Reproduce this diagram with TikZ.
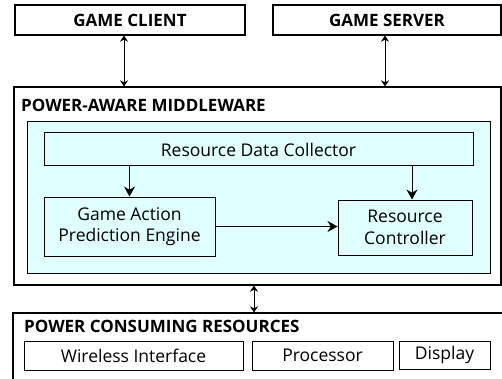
\documentclass[tikz,border=0pt]{standalone}
\usepackage{fontspec}
\setmainfont{Open Sans}
\usetikzlibrary{arrows.meta, positioning}
\definecolor{paleCyan}{RGB}{224,255,255}

\begin{document}
\begin{tikzpicture}[x=1pt,y=-1pt,>={Stealth},
      every node/.style={inner sep=0pt, font=\fontsize{17.5}{21.5}\selectfont},
      box/.style={draw, line width=1.2pt, rectangle, align=center},
      title/.style={anchor=west, font=\fontsize{17}{21}\selectfont\bfseries},
      link/.style={<->, line width=1pt, >={Stealth[length=6pt,width=8pt]}},
      flow/.style={->, line width=1pt, >={Stealth[length=10pt,width=11pt]}}]
      \useasboundingbox (0,0) rectangle (502,379);
      \node[box, minimum width=230, minimum height=30] (client) at (130,20) {\fontsize{17}{21}\selectfont\bfseries GAME CLIENT};
      \node[box, minimum width=228, minimum height=30] (server) at (387,20) {\fontsize{17}{21}\selectfont\bfseries GAME SERVER};
      \node[box, minimum width=487, minimum height=198] (mw) at (257.5,186) {};
      \node[title] (mw_t) at (21,105) {POWER-AWARE MIDDLEWARE};
      \node[draw, line width=1pt, fill=paleCyan, minimum width=463, minimum height=151] (core) at (258.5,197.5) {};
      \node[box, line width=1pt, minimum width=429, minimum height=33] (collector) at (258.5,149.5) {Resource Data Collector};
      \node[box, line width=1pt, minimum width=171, minimum height=59] (predict) at (129.5,226.5) {Game Action\\Prediction Engine};
      \node[box, line width=1pt, minimum width=134, minimum height=55] (control) at (405,227.5) {Resource\\Controller};
      \node[box, minimum width=500, minimum height=80] (pcr) at (263,353) {};
      \node[title] (pcr_t) at (24,326) {POWER CONSUMING RESOURCES};
      \node[box, line width=1pt, minimum width=219, minimum height=29] (wifi) at (133.5,355.5) {Wireless Interface};
      \node[box, line width=1pt, minimum width=141, minimum height=29] (cpu) at (322.5,355.5) {Processor};
      \node[box, line width=1pt, minimum width=91, minimum height=28] (disp) at (444.5,355) {Display};
      % connectors
      \draw[link] ([xshift=-6]client.south) -- ([xshift=-6]client.south |- mw.north);
      \draw[link] ([xshift=-2]server.south) -- ([xshift=-2]server.south |- mw.north);
      \draw[link] ([xshift=-3.5]mw.south) -- ([xshift=-3.5]mw.south |- pcr.north);
      \draw[flow] (collector.south -| predict.north) -- (predict.north);
      \draw[flow] (collector.south -| control.north) ++(7,0) -- ([xshift=7]control.north);
      \draw[flow] (predict.east) -- (predict.east -| control.west);
    \end{tikzpicture}
\end{document}
